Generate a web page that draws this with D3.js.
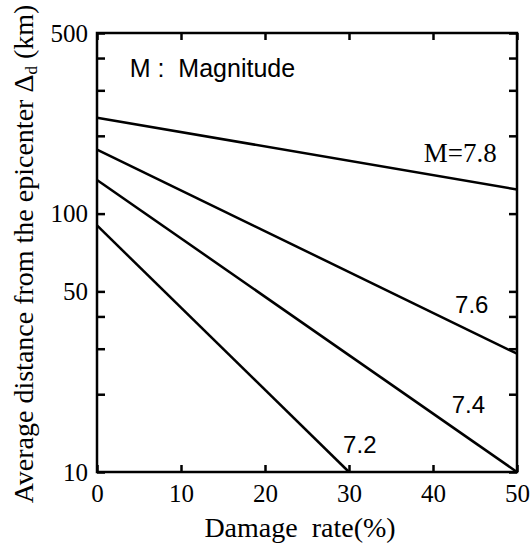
<!DOCTYPE html>
<html>
<head>
<meta charset="utf-8">
<script src="https://cdn.jsdelivr.net/npm/d3@7"></script>
<style>
  body { margin: 0; background: #fff; }
  svg text { fill: #000; }
</style>
</head>
<body>
<svg id="chart" width="530" height="544"></svg>
<script>
// Magnitude curves: distance at 0% damage and at end of line
var magnitudes = ["7.8", "7.6", "7.4", "7.2"];
var startRate = [0, 0, 0, 0];
var startDist = [235, 177, 135, 90];
var endRate = [50, 50, 50, 30];
var endDist = [124, 28.7, 10, 10];

var xTicks = [0, 10, 20, 30, 40, 50];
var yTicks = [10, 20, 30, 40, 50, 100, 200, 300, 400, 500];
var yLabels = [10, 50, 100, 500];

var svg = d3.select("#chart");
var mLeft = 97, mRight = 517, mTop = 33, mBottom = 472;

var x = d3.scaleLinear().domain([0, 50]).range([mLeft, mRight]);
var y = d3.scaleLog().domain([10, 500]).range([mBottom, mTop]);

var serif = "'Liberation Serif', 'Times New Roman', serif";
var sans = "'Liberation Sans', Arial, sans-serif";

// Axes with inward ticks
var gLeft = svg.append("g")
    .attr("transform", "translate(" + mLeft + ",0)")
    .call(d3.axisLeft(y).tickValues(yTicks).tickSize(-8).tickPadding(9)
        .tickFormat(function (d) { return yLabels.indexOf(d) > -1 ? d : ""; }));
var gRight = svg.append("g")
    .attr("transform", "translate(" + mRight + ",0)")
    .call(d3.axisRight(y).tickValues(yTicks).tickSize(-8).tickFormat(""));
var gBottom = svg.append("g")
    .attr("transform", "translate(0," + mBottom + ")")
    .call(d3.axisBottom(x).tickValues(xTicks).tickSize(-7).tickPadding(12));
var gTop = svg.append("g")
    .attr("transform", "translate(0," + mTop + ")")
    .call(d3.axisTop(x).tickValues(xTicks).tickSize(-7).tickFormat(""));

[gLeft, gRight, gBottom, gTop].forEach(function (g) {
    g.select(".domain").remove();
    g.selectAll(".tick line").attr("stroke", "#000").attr("stroke-width", 2.5);
    g.selectAll("text").attr("font-family", serif).attr("font-size", 25).attr("fill", "#000");
});

// Frame
svg.append("rect")
    .attr("x", mLeft).attr("y", mTop)
    .attr("width", mRight - mLeft).attr("height", mBottom - mTop)
    .attr("fill", "none").attr("stroke", "#000").attr("stroke-width", 2.5);

// Lines
var lines = magnitudes.map(function (m, i) {
    return { m: m, pts: [[startRate[i], startDist[i]], [endRate[i], endDist[i]]] };
});
var line = d3.line().x(function (d) { return x(d[0]); }).y(function (d) { return y(d[1]); });
svg.selectAll(".mag")
    .data(lines)
    .enter().append("path")
    .attr("class", "mag")
    .attr("d", function (d) { return line(d.pts); })
    .attr("fill", "none").attr("stroke", "#000").attr("stroke-width", 2.5);

// Line labels
svg.append("text").attr("x", x(47.6)).attr("y", y(158)).attr("text-anchor", "end")
    .attr("font-family", serif).attr("font-size", 27).text("M=7.8");
svg.append("text").attr("x", x(46.6)).attr("y", y(41.3)).attr("text-anchor", "end")
    .attr("font-family", sans).attr("font-size", 24).text("7.6");
svg.append("text").attr("x", x(46.2)).attr("y", y(16.9)).attr("text-anchor", "end")
    .attr("font-family", sans).attr("font-size", 24).text("7.4");
svg.append("text").attr("x", x(29.3)).attr("y", y(11.85))
    .attr("font-family", sans).attr("font-size", 24).text("7.2");

svg.append("text").attr("x", x(3.9)).attr("y", y(337))
    .attr("font-family", sans).attr("font-size", 25).attr("xml:space", "preserve")
    .text("M :  Magnitude");

// Axis titles
svg.append("text")
    .attr("x", 300).attr("y", 537)
    .attr("text-anchor", "middle")
    .attr("font-family", serif).attr("font-size", 28).attr("xml:space", "preserve")
    .text("Damage  rate(%)");

var yt = svg.append("text")
    .attr("transform", "translate(33,254) rotate(-90)")
    .attr("text-anchor", "middle")
    .attr("font-family", serif).attr("font-size", 28);
yt.append("tspan").text("Average distance from the epicenter \u0394");
yt.append("tspan").attr("font-size", 17).attr("dy", 4).text("d");
yt.append("tspan").attr("dy", -4).text(" (km)");
</script>
</body>
</html>
